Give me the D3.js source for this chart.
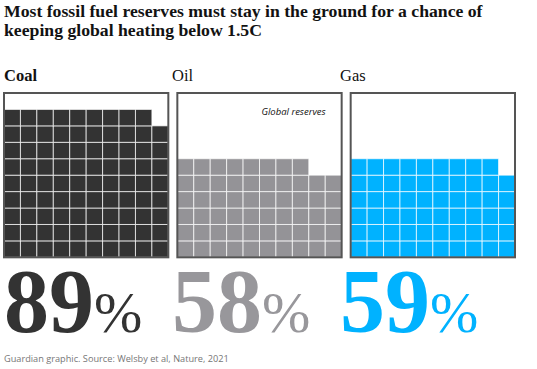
<!DOCTYPE html>
<html>
<head>
<meta charset="utf-8">
<script src="https://cdn.jsdelivr.net/npm/d3@7"></script>
<style>
  html, body { margin: 0; padding: 0; background: #fff; }
  svg { display: block; }
</style>
</head>
<body>
<svg id="chart" width="537" height="369"></svg>
<script>
// ---- data ----
const fuels = ["Coal", "Oil", "Gas"];
const shares = [89, 58, 59];          // % of reserves that must stay in the ground
const titleLines = [
  "Most fossil fuel reserves must stay in the ground for a chance of",
  "keeping global heating below 1.5C"
];
const annotation = "Global reserves";
const source = "Guardian graphic. Source: Welsby et al, Nature, 2021";

// ---- styles ----
const fuelColors = ["#333333", "#949397", "#00b2ff"];
const numColors = ["#333333", "#98979b", "#00b2ff"];

const svg = d3.select("#chart");

// title
svg.append("g").selectAll("text").data(titleLines).join("text")
  .attr("x", 4)
  .attr("y", (d, i) => 17 + i * 19)
  .attr("font-family", "'Liberation Serif', serif")
  .attr("font-weight", "bold")
  .attr("font-size", 17.7)
  .attr("fill", "#121212")
  .text(d => d);

// box layout
const boxX = d3.scaleBand().domain(fuels).range([4, 515]).paddingInner(0.052);
const bw = boxX.bandwidth();
const boxTop = 93, boxBottom = boxTop + bw;
const idx = d3.range(10);
const colX = d3.scaleBand().domain(idx).range([0, bw]);
const rowY = d3.scaleBand().domain(idx).range([boxBottom, boxTop]);  // row 0 at bottom

// label / number positions
const labelX = d3.scalePoint().domain(fuels).range([4, 340]);

fuels.forEach((f, i) => {
  const g = svg.append("g").attr("transform", `translate(${boxX(f)},0)`);
  const cells = d3.range(shares[i]).map(k => ({ r: Math.floor(k / 10), c: k % 10 }));
  g.selectAll("rect.cell").data(cells).join("rect")
    .attr("class", "cell")
    .attr("x", d => colX(d.c))
    .attr("y", d => rowY(d.r))
    .attr("width", colX.bandwidth())
    .attr("height", rowY.bandwidth())
    .attr("fill", fuelColors[i])
    .attr("stroke", "#fff")
    .attr("stroke-opacity", 0.7)
    .attr("stroke-width", 1);
  g.append("rect")
    .attr("x", 0).attr("y", boxTop)
    .attr("width", bw).attr("height", bw)
    .attr("fill", "none")
    .attr("stroke", "#555")
    .attr("stroke-width", 2);

  // fuel label
  svg.append("text")
    .attr("x", labelX(f))
    .attr("y", 81)
    .attr("font-family", "'Liberation Serif', serif")
    .attr("font-weight", i === 0 ? "bold" : "normal")
    .attr("font-size", 16.5)
    .attr("fill", "#121212")
    .text(f);

  // big number
  const t = svg.append("text")
    .attr("x", labelX(f))
    .attr("y", 332)
    .attr("font-family", "'Liberation Serif', serif")
    .attr("fill", numColors[i]);
  t.append("tspan").attr("font-size", 90).attr("font-weight", "bold").text(shares[i]);
  t.append("tspan").attr("font-size", 58).attr("font-weight", "normal").text("%");
});

// annotation
svg.append("text")
  .attr("x", boxX("Oil") + bw - 16)
  .attr("y", 115)
  .attr("text-anchor", "end")
  .attr("font-family", "'Open Sans', sans-serif")
  .attr("font-style", "italic")
  .attr("font-size", 9.5)
  .attr("fill", "#121212")
  .text(annotation);

// source
svg.append("text")
  .attr("x", 4)
  .attr("y", 362)
  .attr("font-family", "'Open Sans', sans-serif")
  .attr("font-size", 9.2)
  .attr("fill", "#767676")
  .text(source);
</script>
</body>
</html>
